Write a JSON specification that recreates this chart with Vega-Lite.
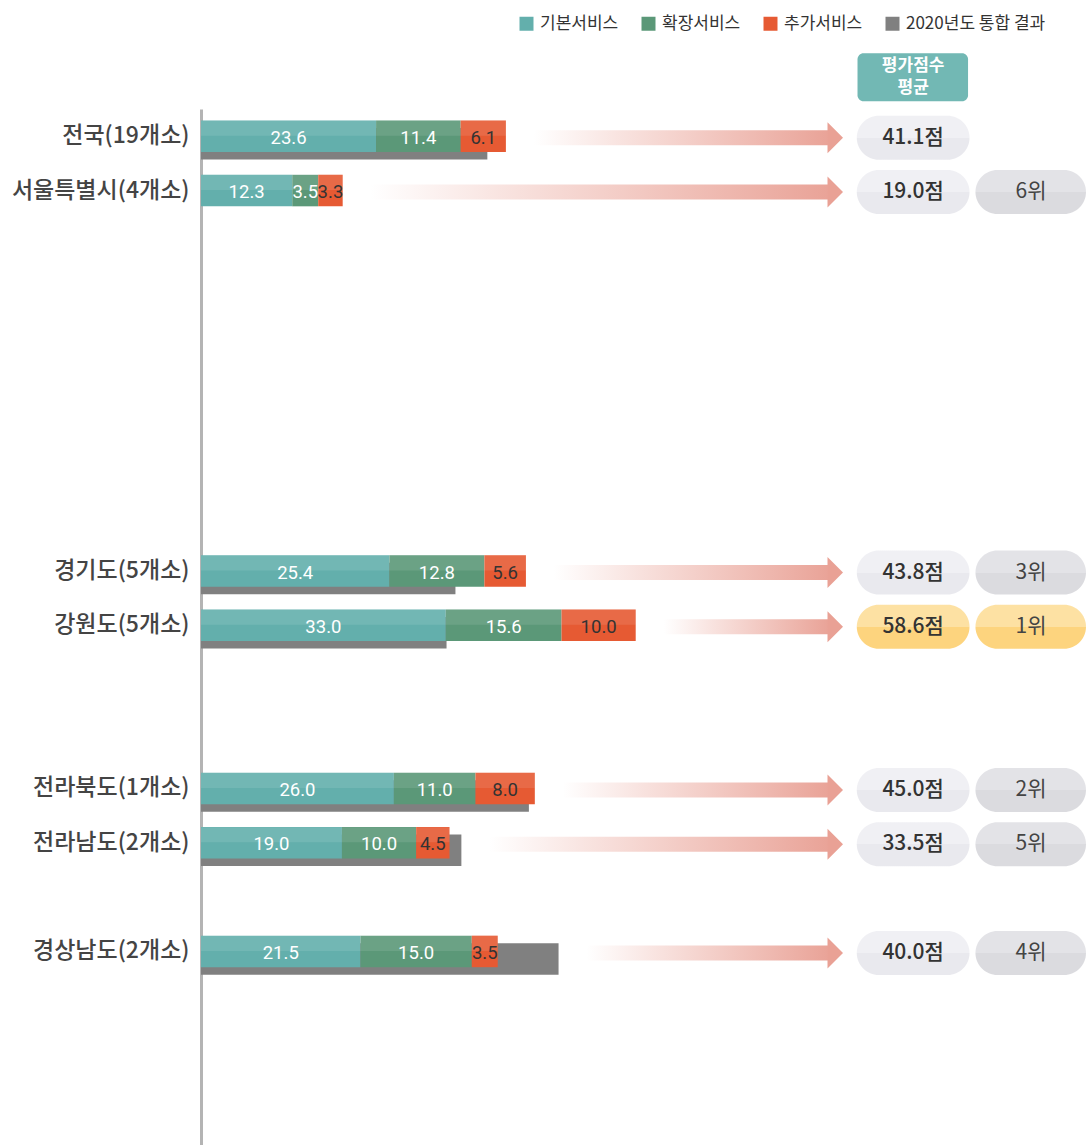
{
  "$schema": "https://vega.github.io/schema/vega-lite/v6.json",
  "width": 885,
  "height": 1036,
  "autosize": {"type": "none"},
  "padding": {"left": 201, "top": 109, "right": 1, "bottom": 0},
  "background": "white",
  "config": {"view": {"stroke": null}, "font": "Noto Sans CJK KR"},
  "datasets": {
    "seg": [
      {"region": "전국(19개소)", "series": "기본서비스", "ord": 1, "value": 23.6},
      {"region": "전국(19개소)", "series": "확장서비스", "ord": 2, "value": 11.4},
      {"region": "전국(19개소)", "series": "추가서비스", "ord": 3, "value": 6.1},
      {"region": "서울특별시(4개소)", "series": "기본서비스", "ord": 1, "value": 12.3},
      {"region": "서울특별시(4개소)", "series": "확장서비스", "ord": 2, "value": 3.5},
      {"region": "서울특별시(4개소)", "series": "추가서비스", "ord": 3, "value": 3.3},
      {"region": "경기도(5개소)", "series": "기본서비스", "ord": 1, "value": 25.4},
      {"region": "경기도(5개소)", "series": "확장서비스", "ord": 2, "value": 12.8},
      {"region": "경기도(5개소)", "series": "추가서비스", "ord": 3, "value": 5.6},
      {"region": "강원도(5개소)", "series": "기본서비스", "ord": 1, "value": 33.0},
      {"region": "강원도(5개소)", "series": "확장서비스", "ord": 2, "value": 15.6},
      {"region": "강원도(5개소)", "series": "추가서비스", "ord": 3, "value": 10.0},
      {"region": "전라북도(1개소)", "series": "기본서비스", "ord": 1, "value": 26.0},
      {"region": "전라북도(1개소)", "series": "확장서비스", "ord": 2, "value": 11.0},
      {"region": "전라북도(1개소)", "series": "추가서비스", "ord": 3, "value": 8.0},
      {"region": "전라남도(2개소)", "series": "기본서비스", "ord": 1, "value": 19.0},
      {"region": "전라남도(2개소)", "series": "확장서비스", "ord": 2, "value": 10.0},
      {"region": "전라남도(2개소)", "series": "추가서비스", "ord": 3, "value": 4.5},
      {"region": "경상남도(2개소)", "series": "기본서비스", "ord": 1, "value": 21.5},
      {"region": "경상남도(2개소)", "series": "확장서비스", "ord": 2, "value": 15.0},
      {"region": "경상남도(2개소)", "series": "추가서비스", "ord": 3, "value": 3.5}
    ],
    "rows": [
      {"region": "전국(19개소)", "total": 41.1, "prev": 38.6, "score": "41.1점", "rank": null, "rankLabel": null},
      {"region": "서울특별시(4개소)", "total": 19.0, "prev": null, "score": "19.0점", "rank": 6, "rankLabel": "6위"},
      {"region": "경기도(5개소)", "total": 43.8, "prev": 34.3, "score": "43.8점", "rank": 3, "rankLabel": "3위"},
      {"region": "강원도(5개소)", "total": 58.6, "prev": 33.1, "score": "58.6점", "rank": 1, "rankLabel": "1위"},
      {"region": "전라북도(1개소)", "total": 45.0, "prev": 44.2, "score": "45.0점", "rank": 2, "rankLabel": "2위"},
      {"region": "전라남도(2개소)", "total": 33.5, "prev": 35.1, "score": "33.5점", "rank": 5, "rankLabel": "5위"},
      {"region": "경상남도(2개소)", "total": 40.0, "prev": 48.2, "score": "40.0점", "rank": 4, "rankLabel": "4위"}
    ]
  },
  "encoding": {
    "y": {
      "field": "region",
      "type": "nominal",
      "title": null,
      "scale": {
        "domain": ["전국(19개소)", "서울특별시(4개소)", "부산", "대구", "인천", "광주", "대전", "울산", "경기도(5개소)", "강원도(5개소)", "충청북도", "충청남도", "전라북도(1개소)", "전라남도(2개소)", "경상북도", "경상남도(2개소)", "제주", "기타1", "기타2"],
        "paddingInner": 0.42,
        "paddingOuter": 0.241,
        "align": 0.437
      },
      "axis": {
        "domainColor": "#b4b4b4",
        "domainWidth": 3,
        "ticks": false,
        "grid": false,
        "labelFontSize": 23,
        "labelFontWeight": 500,
        "labelFont": "Noto Sans CJK KR",
        "labelColor": "#444444",
        "labelPadding": 12,
        "labelLimit": 400,
        "labelExpr": "indexof(datum.label, '개소') >= 0 ? datum.label : ''"
      }
    }
  },
  "layer": [
    {
      "data": {"name": "rows"},
      "transform": [
        {"fold": ["total", "prev"], "as": ["k", "v"]},
        {"aggregate": [{"op": "max", "field": "v", "as": "from"}], "groupby": ["region"]}
      ],
      "mark": {
        "type": "bar",
        "height": 15,
        "yOffset": 1.5,
        "xOffset": 28,
        "color": {
          "gradient": "linear", "x1": 0, "y1": 0, "x2": 1, "y2": 0,
          "stops": [
            {"offset": 0, "color": "rgba(233,160,148,0)"},
            {"offset": 0.3, "color": "rgba(233,160,148,0.3)"},
            {"offset": 1, "color": "rgba(232,158,146,0.95)"}
          ]
        }
      },
      "encoding": {
        "x": {"field": "from", "type": "quantitative", "scale": {"domain": [0, 119.3], "nice": false, "zero": true}, "axis": null},
        "x2": {"datum": 84.6}
      }
    },
    {
      "data": {"name": "rows"},
      "mark": {"type": "point", "shape": "M-0.5,-1L0.5,0L-0.5,1Z", "size": 961, "filled": true, "color": "#e9a195", "opacity": 1, "yOffset": 1.5},
      "encoding": {
        "x": {"datum": 85.5, "type": "quantitative", "scale": {"domain": [0, 119.3], "nice": false, "zero": true}, "axis": null}
      }
    },
    {
      "data": {"name": "rows"},
      "transform": [{"filter": "datum.prev != null"}],
      "mark": {"type": "bar", "yOffset": 7.5},
      "encoding": {
        "x": {"field": "prev", "type": "quantitative", "scale": {"domain": [0, 119.3], "nice": false, "zero": true}, "axis": null},
        "color": {
          "datum": "2020년도 통합 결과",
          "type": "nominal",
          "scale": {"domain": ["기본서비스", "확장서비스", "추가서비스", "2020년도 통합 결과"], "range": ["#63afac", "#5b9878", "#e65a33", "#808080"]},
          "legend": {
            "orient": "none",
            "legendX": 317,
            "legendY": -94,
            "direction": "horizontal",
            "title": null,
            "symbolType": "square",
            "symbolSize": 196,
            "symbolStrokeWidth": 0,
            "labelFontSize": 17,
            "labelFont": "Noto Sans CJK KR",
            "labelColor": "#333333",
            "labelOffset": 5,
            "columnPadding": 21
          }
        }
      }
    },
    {
      "data": {"name": "seg"},
      "mark": {"type": "bar"},
      "encoding": {
        "x": {"field": "value", "type": "quantitative", "stack": "zero", "scale": {"domain": [0, 119.3], "nice": false, "zero": true}, "axis": null},
        "order": {"field": "ord"},
        "color": {
          "field": "series",
          "type": "nominal",
          "scale": {"domain": ["기본서비스", "확장서비스", "추가서비스", "2020년도 통합 결과"], "range": ["#63afac", "#5b9878", "#e65a33", "#808080"]},
          "legend": {
            "orient": "none",
            "legendX": 317,
            "legendY": -94,
            "direction": "horizontal",
            "title": null,
            "symbolType": "square",
            "symbolSize": 196,
            "symbolStrokeWidth": 0,
            "labelFontSize": 17,
            "labelFont": "Noto Sans CJK KR",
            "labelColor": "#333333",
            "labelOffset": 5,
            "columnPadding": 21
          }
        }
      }
    },
    {
      "data": {"name": "seg"},
      "mark": {"type": "bar", "height": 15, "yOffset": -8, "color": "white", "opacity": 0.1},
      "encoding": {
        "x": {"field": "value", "type": "quantitative", "stack": "zero", "scale": {"domain": [0, 119.3], "nice": false, "zero": true}, "axis": null},
        "order": {"field": "ord"}
      }
    },
    {
      "data": {"name": "seg"},
      "mark": {"type": "text", "fontSize": 18.5, "font": "Roboto", "yOffset": 1.5},
      "encoding": {
        "x": {"field": "value", "type": "quantitative", "stack": "zero", "bandPosition": 0.5, "scale": {"domain": [0, 119.3], "nice": false, "zero": true}, "axis": null},
        "order": {"field": "ord"},
        "text": {"field": "value", "type": "quantitative", "format": ".1f"},
        "color": {"condition": {"test": "datum.series === '추가서비스'", "value": "#333333"}, "value": "white"}
      }
    },
    {
      "data": {"name": "rows"},
      "mark": {"type": "bar", "height": 44, "yOffset": 1.5, "cornerRadius": 22},
      "encoding": {
        "x": {"datum": 88.4, "type": "quantitative", "scale": {"domain": [0, 119.3], "nice": false, "zero": true}, "axis": null},
        "x2": {"datum": 103.6},
        "color": {
          "condition": {
            "test": "datum.rank === 1",
            "value": {"gradient": "linear", "x1": 0, "y1": 0, "x2": 0, "y2": 1, "stops": [{"offset": 0, "color": "#fde1a3"}, {"offset": 0.5, "color": "#fde1a3"}, {"offset": 0.5, "color": "#fdd47e"}, {"offset": 1, "color": "#fdd47e"}]}
          },
          "value": {"gradient": "linear", "x1": 0, "y1": 0, "x2": 0, "y2": 1, "stops": [{"offset": 0, "color": "#f0f0f4"}, {"offset": 0.5, "color": "#f0f0f4"}, {"offset": 0.5, "color": "#e9e9ee"}, {"offset": 1, "color": "#e9e9ee"}]}
        }
      }
    },
    {
      "data": {"name": "rows"},
      "transform": [{"filter": "datum.rank != null"}],
      "mark": {"type": "bar", "height": 44, "yOffset": 1.5, "cornerRadius": 22},
      "encoding": {
        "x": {"datum": 104.4, "type": "quantitative", "scale": {"domain": [0, 119.3], "nice": false, "zero": true}, "axis": null},
        "x2": {"datum": 119.3},
        "color": {
          "condition": {
            "test": "datum.rank === 1",
            "value": {"gradient": "linear", "x1": 0, "y1": 0, "x2": 0, "y2": 1, "stops": [{"offset": 0, "color": "#fde1a3"}, {"offset": 0.5, "color": "#fde1a3"}, {"offset": 0.5, "color": "#fdd47e"}, {"offset": 1, "color": "#fdd47e"}]}
          },
          "value": {"gradient": "linear", "x1": 0, "y1": 0, "x2": 0, "y2": 1, "stops": [{"offset": 0, "color": "#e3e3e7"}, {"offset": 0.5, "color": "#e3e3e7"}, {"offset": 0.5, "color": "#dbdbdf"}, {"offset": 1, "color": "#dbdbdf"}]}
        }
      }
    },
    {
      "data": {"name": "rows"},
      "mark": {"type": "text", "fontSize": 21, "fontWeight": 500, "color": "#333333", "yOffset": 1.5, "font": "Noto Sans CJK KR"},
      "encoding": {
        "x": {"datum": 96.0, "type": "quantitative", "scale": {"domain": [0, 119.3], "nice": false, "zero": true}, "axis": null},
        "text": {"field": "score"}
      }
    },
    {
      "data": {"name": "rows"},
      "transform": [{"filter": "datum.rank != null"}],
      "mark": {"type": "text", "fontSize": 21, "color": "#444444", "yOffset": 1.5, "font": "Noto Sans CJK KR"},
      "encoding": {
        "x": {"datum": 111.9, "type": "quantitative", "scale": {"domain": [0, 119.3], "nice": false, "zero": true}, "axis": null},
        "text": {"field": "rankLabel"}
      }
    },
    {
      "data": {"values": [{"label": "평가점수 평균"}]},
      "mark": {"type": "bar", "height": 48, "yOffset": -59, "cornerRadius": 6, "color": "#72b8b4"},
      "encoding": {
        "y": {"datum": "전국(19개소)", "type": "nominal"},
        "x": {"datum": 88.5, "type": "quantitative", "scale": {"domain": [0, 119.3], "nice": false, "zero": true}, "axis": null},
        "x2": {"datum": 103.4}
      }
    },
    {
      "data": {"values": [{"label": "평가점수 평균"}]},
      "mark": {"type": "text", "fontSize": 17, "fontWeight": "bold", "color": "white", "yOffset": -70, "lineHeight": 22, "font": "Noto Sans CJK KR"},
      "encoding": {
        "y": {"datum": "전국(19개소)", "type": "nominal"},
        "x": {"datum": 96.0, "type": "quantitative", "scale": {"domain": [0, 119.3], "nice": false, "zero": true}, "axis": null},
        "text": {"value": ["평가점수", "평균"]}
      }
    }
  ]
}
